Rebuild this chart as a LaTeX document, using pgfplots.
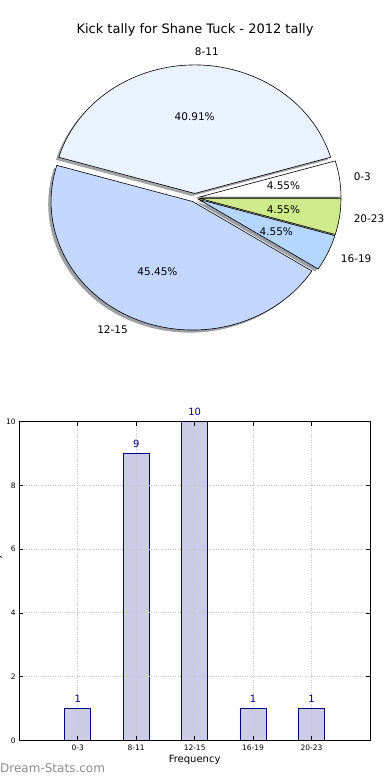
\documentclass[border=0pt]{standalone}
\usepackage{pgfplots}
\pgfplotsset{compat=1.18}
\usepackage{fontspec}
\setmainfont{DejaVu Sans}
\definecolor{c03}{RGB}{255,255,255}
\definecolor{c811}{RGB}{234,241,255}
\definecolor{c1215}{RGB}{196,216,255}
\definecolor{c1619}{RGB}{180,214,255}
\definecolor{c2023}{RGB}{206,234,138}
\definecolor{barfill}{RGB}{204,204,230}
\definecolor{baredge}{RGB}{0,0,128}
\definecolor{wm}{RGB}{140,140,140}
% #1 style, #2/#3 offset of the wedge apex, #4 start angle, #5 end angle
\newcommand{\pieWedge}[5]{\path[#1] (axis cs:#2,#3) -- (axis cs:{#2+cos(#4)},{#3+sin(#4)}) arc[start angle=#4, end angle=#5, x radius=141.667pt, y radius=128.5pt] -- cycle;}
\begin{document}
\begin{tikzpicture}[x=1pt,y=1pt]
\node[font=\fontsize{13}{15}\selectfont] at (195,750) {Kick tally for Shane Tuck - 2012 tally};
% counts: 0-3:1, 8-11:9, 12-15:10, 16-19:1, 20-23:1 (total 22)
\begin{axis}[at={(194.7pt,582.3pt)}, anchor=center, scale only axis,
  width=340pt, height=308.4pt, xmin=-1.2, xmax=1.2, ymin=-1.2, ymax=1.2,
  hide axis, clip=false]
% shadows
\pieWedge{fill=c03!30!black, fill opacity=0.5}{0.01266}{-0.01530}{0}{360*1/22}
\pieWedge{fill=c811!30!black, fill opacity=0.5}{-0.02}{0.013}{360*1/22}{360*10/22}
\pieWedge{fill=c1215!30!black, fill opacity=0.5}{-0.03371}{-0.05002}{360*10/22}{360*20/22}
\pieWedge{fill=c1619!30!black, fill opacity=0.5}{0.01002}{-0.03371}{360*20/22}{360*21/22}
\pieWedge{fill=c2023!30!black, fill opacity=0.5}{0.01266}{-0.02470}{360*21/22}{360}
% wedges
\pieWedge{fill=c03, draw=black, line width=0.6pt}{0.03266}{0.00470}{0}{360*1/22}
\pieWedge{fill=c811, draw=black, line width=0.6pt}{0}{0.033}{360*1/22}{360*10/22}
\pieWedge{fill=c1215, draw=black, line width=0.6pt}{-0.01371}{-0.03002}{360*10/22}{360*20/22}
\pieWedge{fill=c1619, draw=black, line width=0.6pt}{0.03002}{-0.01371}{360*20/22}{360*21/22}
\pieWedge{fill=c2023, draw=black, line width=0.6pt}{0.03266}{-0.00470}{360*21/22}{360}
% labels
\begin{scope}[every node/.style={inner sep=0pt, font=\fontsize{10.5}{12}\selectfont}]
\node[anchor=west] at (axis cs:1.1215,0.1612) {0-3};
\node[anchor=west] at (axis cs:0,1.133) {8-11};
\node[anchor=east] at (axis cs:-0.4707,-1.0306) {12-15};
\node[anchor=west] at (axis cs:1.0306,-0.4707) {16-19};
\node[anchor=west] at (axis cs:1.1215,-0.1612) {20-23};
\node at (axis cs:0.6266,0.0901) {4.55\%};
\node at (axis cs:0,0.633) {40.91\%};
\node at (axis cs:-0.2630,-0.5758) {45.45\%};
\node at (axis cs:0.5758,-0.2630) {4.55\%};
\node at (axis cs:0.6266,-0.0901) {4.55\%};
\end{scope}
\end{axis}

\begin{axis}[at={(19.3pt,39.7pt)}, anchor=south west, scale only axis,
  width=350.7pt, height=318.6pt,
  xmin=-1, xmax=5, ymin=0, ymax=10,
  xtick={0,1,2,3,4}, xticklabels={0-3,8-11,12-15,16-19,20-23},
  ytick={0,2,4,6,8,10},
  tick align=inside, xtick pos=both, ytick pos=both,
  major tick length=4pt, tick style={black, line width=0.5pt},
  grid=major, grid style={dotted, black!22, line width=1pt},
  axis on top, clip=false,
  axis line style={line width=0.8pt},
  /pgf/number format/assume math mode=true,
  ticklabel style={font=\fontsize{7.5}{8}\selectfont},
  xticklabel style={yshift=-1pt},
  xlabel={Frequency},
  xlabel style={at={(axis description cs:0.5,0)}, anchor=center, yshift=-19.7pt, font=\fontsize{10}{12}\selectfont},
  ylabel={Kick Tally},
  ylabel style={at={(axis description cs:-0.0642,0.515)}, anchor=center, font=\fontsize{10}{12}\selectfont},
]
\addplot[ybar, bar width=0.45, fill=barfill, draw=baredge, line width=0.8pt,
  nodes near coords,
  every node near coord/.append style={anchor=center, yshift=9.4pt, text=baredge, font=\fontsize{10}{11}\selectfont}]
  coordinates {(0,1) (1,9) (2,10) (3,1) (4,1)};
\end{axis}
\node[anchor=base west, inner sep=0pt, text=wm, font=\fontsize{12}{13}\selectfont] at (0,7) {Dream-Stats.com};
\pgfresetboundingbox
\useasboundingbox (0,0) rectangle (390,780);
\end{tikzpicture}
\end{document}
